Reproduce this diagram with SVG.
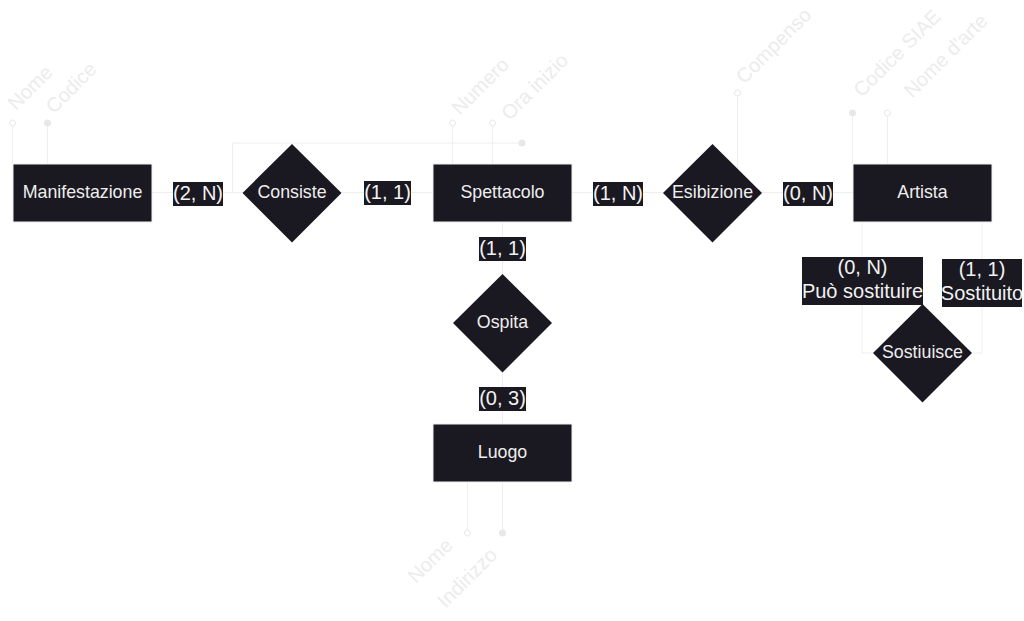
<svg xmlns="http://www.w3.org/2000/svg" width="1024" height="621" viewBox="0 0 1024 621">
<style>
.ent{fill:#1a1820;stroke:#eeeeee;stroke-width:1}
.rel{fill:#1a1820}
.lbl{font-family:"Liberation Sans",Arial,sans-serif;font-size:17.8px;fill:#eeeeee;text-anchor:middle}
.card{font-family:"Liberation Sans",Arial,sans-serif;font-size:20px;fill:#f2f2f2;text-anchor:middle}
.cbg{fill:#1a1820}
.attr{font-family:"Liberation Sans",Arial,sans-serif;font-size:20px;fill:#ececec;text-anchor:middle}
.ln{fill:none;stroke:#eeeeee;stroke-width:1}
.hol{fill:#ffffff;stroke:#e8e8e8;stroke-width:1}
.fil{fill:#e8e8e8}
</style>
<rect width="1024" height="621" fill="#ffffff"/>
<g id="connectors">
<path class="ln" d="M151,192.5 H853"/>
<path class="ln" d="M502.5,222 V424"/>
<path class="ln" d="M862,222 V353 H873"/>
<path class="ln" d="M982,222 V353 H972"/>
<path class="ln" d="M232.5,192.5 V143 H522"/>
<circle class="fil" cx="522" cy="143" r="3.5"/>
</g>
<g id="attributes">
<path class="ln" d="M12.5,126 V164"/><circle class="hol" cx="12.5" cy="123" r="3"/>
<text class="attr" x="30" y="94.5" transform="rotate(-45 30 87.5)">Nome</text>
<path class="ln" d="M47.5,126 V164"/><circle class="fil" cx="47.5" cy="123" r="3.5"/>
<text class="attr" x="71" y="94.5" transform="rotate(-45 71 87.5)">Codice</text>
<path class="ln" d="M452.5,126 V164"/><circle class="hol" cx="452.5" cy="123" r="3"/>
<text class="attr" x="480" y="93" transform="rotate(-45 480 86)">Numero</text>
<path class="ln" d="M492.5,126 V164"/><circle class="hol" cx="492.5" cy="123" r="3"/>
<text class="attr" x="534.5" y="93.5" transform="rotate(-45 534.5 86.5)">Ora inizio</text>
<path class="ln" d="M737.5,96 V193"/><circle class="hol" cx="737.5" cy="93" r="3"/>
<text class="attr" x="773.5" y="52.5" transform="rotate(-45 773.5 45.5)">Compenso</text>
<path class="ln" d="M852.5,116 V164"/><circle class="fil" cx="852.5" cy="113" r="3.5"/>
<text class="attr" x="897" y="60" transform="rotate(-45 897 53)">Codice SIAE</text>
<path class="ln" d="M887.5,116 V164"/><circle class="hol" cx="887.5" cy="113" r="3"/>
<text class="attr" x="945.5" y="62.5" transform="rotate(-45 945.5 55.5)">Nome d'arte</text>
<path class="ln" d="M467.5,482 V530"/><circle class="hol" cx="467.5" cy="533" r="3"/>
<text class="attr" x="430" y="567.5" transform="rotate(-45 430 560.5)">Nome</text>
<path class="ln" d="M502.5,482 V530"/><circle class="fil" cx="502.5" cy="533" r="3.5"/>
<text class="attr" x="467" y="584.5" transform="rotate(-45 467 577.5)">Indirizzo</text>
</g>
<g id="Manifestazione"><rect class="ent" x="13" y="164" width="139" height="58"/><text class="lbl" x="82.5" y="198">Manifestazione</text></g>
<g id="Spettacolo"><rect class="ent" x="433" y="164" width="139" height="58"/><text class="lbl" x="502.5" y="198">Spettacolo</text></g>
<g id="Artista"><rect class="ent" x="853" y="164" width="139" height="58"/><text class="lbl" x="922.5" y="198">Artista</text></g>
<g id="Luogo"><rect class="ent" x="433" y="424" width="139" height="58"/><text class="lbl" x="502.5" y="458">Luogo</text></g>
<g id="Consiste"><polygon class="rel" points="292,144 341.5,193 292,242.5 242.5,193"/><text class="lbl" x="292" y="198">Consiste</text></g>
<g id="Esibizione"><polygon class="rel" points="712.5,144 762,193 712.5,242.5 663,193"/><text class="lbl" x="712.5" y="198">Esibizione</text></g>
<g id="Ospita"><polygon class="rel" points="502.5,274 552,323 502.5,372.5 453,323"/><text class="lbl" x="502.5" y="328">Ospita</text></g>
<g id="Sostiuisce"><polygon class="rel" points="922.5,304 972,353 922.5,402.5 873,353"/><text class="lbl" x="922.5" y="358">Sostiuisce</text></g>
<g id="cardinalities">
<rect class="cbg" x="173" y="182" width="50" height="24"/><text class="card" x="198" y="200">(2, N)</text>
<rect class="cbg" x="364" y="181" width="47" height="24"/><text class="card" x="387.5" y="199">(1, 1)</text>
<rect class="cbg" x="593" y="182" width="50" height="24"/><text class="card" x="618" y="200">(1, N)</text>
<rect class="cbg" x="783" y="182" width="50" height="24"/><text class="card" x="808" y="200">(0, N)</text>
<rect class="cbg" x="479" y="237" width="47" height="24"/><text class="card" x="502.5" y="255">(1, 1)</text>
<rect class="cbg" x="479" y="387" width="47" height="24"/><text class="card" x="502.5" y="405">(0, 3)</text>
<rect class="cbg" x="802" y="257" width="121" height="48"/><text class="card" x="862.5" y="274">(0, N)</text><text class="card" x="862.5" y="298">Può sostituire</text>
<rect class="cbg" x="942" y="259" width="80" height="48"/><text class="card" x="982" y="276">(1, 1)</text><text class="card" x="982" y="300">Sostituito</text>
</g>
</svg>
